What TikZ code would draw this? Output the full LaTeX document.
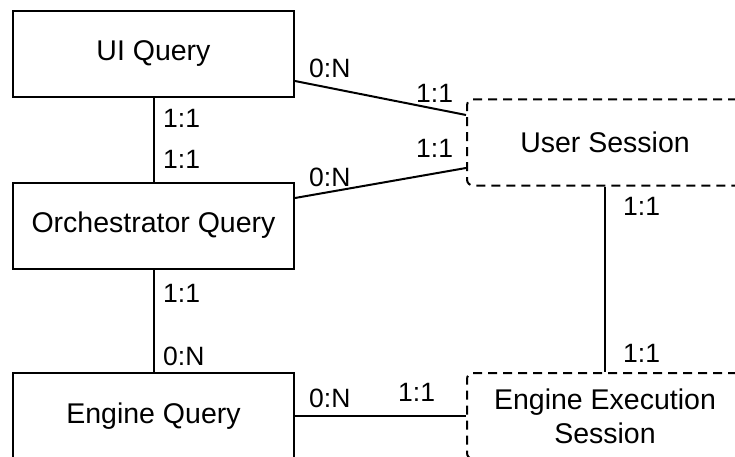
\documentclass[tikz,border=0pt]{standalone}
\usepackage{fontspec}
\setmainfont{Liberation Sans}
\begin{document}
\begin{tikzpicture}[x=1pt,y=-1pt,
  solidbox/.style={draw,line width=2pt,minimum width=281pt,minimum height=86pt,inner sep=0pt,font=\fontsize{28.5}{31}\selectfont},
  dashbox/.style={draw,line width=2pt,dash pattern=on 9pt off 6pt,rounded corners=6pt,minimum width=276pt,minimum height=86pt,inner sep=0pt,align=center,font=\fontsize{28.5}{34}\selectfont},
  conn/.style={line width=2pt},
  card/.style={anchor=west,inner sep=0pt,font=\fontsize{26.5}{28}\selectfont}]
\useasboundingbox (0,0) rectangle (735,457);
\clip (0,0) rectangle (735,457);
\node[solidbox] (ui) at (153.5,54) {UI Query};
\node[solidbox] (orch) at (153.5,225.5) {Orchestrator Query};
\node[solidbox] (eq) at (153.5,416) {Engine Query};
\node[dashbox] (us) at (605,142.5) {User Session};
\node[dashbox] (ees) at (605,416) {Engine Execution\\Session};
\draw[conn] (ui.south) -- (orch.north);
\draw[conn] (orch.south) -- (eq.north);
\draw[conn] ([yshift=-27pt]ui.east) -- ([yshift=27.5pt]us.west);
\draw[conn] ([yshift=27.5pt]orch.east) -- ([yshift=-25.5pt]us.west);
\draw[conn] (eq.east) -- (ees.west);
\draw[conn] (us.south) -- (ees.north);
\node[card] (l1) at (163,118) {1:1};
\node[card] (l2) at (163,159) {1:1};
\node[card] (l3) at (163,293) {1:1};
\node[card] (l4) at (163,356) {0:N};
\node[card] (l5) at (309,68) {0:N};
\node[card] (l6) at (416,93) {1:1};
\node[card] (l7) at (416,148) {1:1};
\node[card] (l8) at (309,177) {0:N};
\node[card] (l9) at (309,398) {0:N};
\node[card] (l10) at (398,392) {1:1};
\node[card] (l11) at (623,206) {1:1};
\node[card] (l12) at (623,353) {1:1};
\end{tikzpicture}
\end{document}
